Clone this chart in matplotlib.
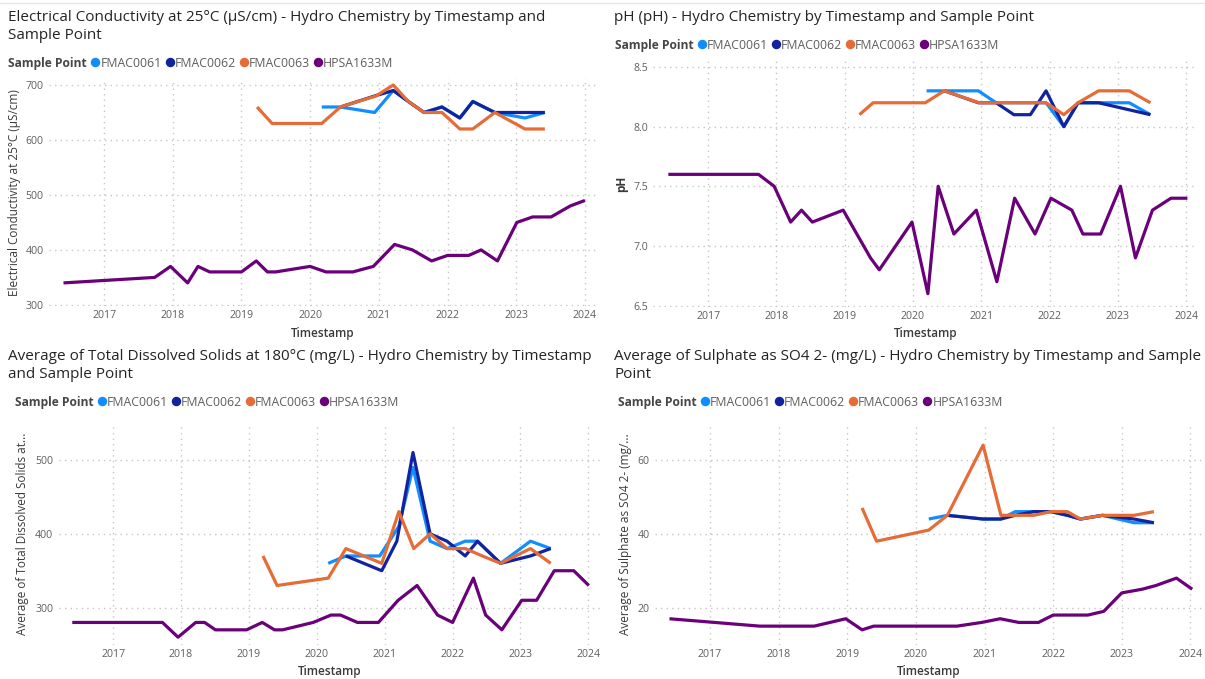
import matplotlib
matplotlib.use("Agg")
import matplotlib.pyplot as plt
import matplotlib.dates as mdates
from matplotlib.lines import Line2D
import pandas as pd

plt.rcParams["font.family"] = ["Open Sans", "Noto Sans", "DejaVu Sans"]

W, H = 1205, 679

sample_points = ["FMAC0061", "FMAC0062", "FMAC0063", "HPSA1633M"]
colors = ["#118DFF", "#12239E", "#E66C37", "#6B007B"]

# ---------------- Electrical Conductivity (uS/cm) ----------------
ec_0061_dates = ["2020-03-03", "2020-06-10", "2020-12-09", "2021-03-18", "2021-06-06", "2021-08-29",
                 "2021-12-02", "2022-03-07", "2022-05-15", "2022-09-09", "2023-02-16", "2023-06-02"]
ec_0061_vals = [660, 660, 650, 690, 670, 650, 660, 640, 670, 650, 640, 650]
ec_0062_dates = ["2020-06-10", "2020-12-09", "2021-03-18", "2021-06-06", "2021-08-29", "2021-12-02",
                 "2022-03-07", "2022-05-15", "2022-09-09", "2023-02-16", "2023-06-02"]
ec_0062_vals = [660, 680, 690, 670, 650, 660, 640, 670, 650, 650, 650]
ec_0063_dates = ["2019-03-25", "2019-06-13", "2020-03-03", "2020-06-10", "2020-12-16", "2021-03-18",
                 "2021-06-06", "2021-08-29", "2021-12-02", "2022-03-07", "2022-05-15", "2022-09-09",
                 "2023-02-16", "2023-06-02"]
ec_0063_vals = [660, 630, 630, 660, 680, 700, 670, 650, 650, 620, 620, 650, 620, 620]
ec_hpsa_dates = ["2016-05-30", "2017-09-27", "2017-12-20", "2018-03-21", "2018-05-15", "2018-07-16",
                 "2019-01-01", "2019-03-21", "2019-05-19", "2019-07-02", "2020-01-01", "2020-03-25",
                 "2020-08-15", "2020-12-02", "2021-03-25", "2021-06-28", "2021-10-08", "2022-01-01",
                 "2022-04-23", "2022-06-28", "2022-09-23", "2023-01-04", "2023-03-29", "2023-07-05",
                 "2023-10-15", "2024-01-01"]
ec_hpsa_vals = [340, 350, 370, 340, 370, 360, 360, 380, 360, 360, 370, 360, 360, 370, 410, 400, 380,
                390, 390, 400, 380, 450, 460, 460, 480, 490]

# ---------------- pH ----------------
ph_0061_dates = ["2020-03-14", "2020-06-17", "2020-12-16", "2021-03-21", "2021-06-24", "2021-09-20",
                 "2021-12-13", "2022-03-18", "2022-06-02", "2022-09-20", "2023-03-03", "2023-06-24"]
ph_0061_vals = [8.3, 8.3, 8.3, 8.2, 8.2, 8.2, 8.2, 8.0, 8.2, 8.2, 8.2, 8.1]
ph_0062_dates = ["2020-06-17", "2020-12-16", "2021-03-21", "2021-06-24", "2021-09-20", "2021-12-13",
                 "2022-03-18", "2022-06-02", "2022-09-20", "2023-06-24"]
ph_0062_vals = [8.3, 8.2, 8.2, 8.1, 8.1, 8.3, 8.0, 8.2, 8.2, 8.1]
ph_0063_dates = ["2019-03-21", "2019-06-02", "2020-03-07", "2020-06-17", "2020-12-20", "2021-03-21",
                 "2021-06-24", "2021-09-20", "2021-12-13", "2022-03-18", "2022-06-02", "2022-09-20",
                 "2023-03-03", "2023-06-24"]
ph_0063_vals = [8.1, 8.2, 8.2, 8.3, 8.2, 8.2, 8.2, 8.2, 8.2, 8.1, 8.2, 8.3, 8.3, 8.2]
ph_hpsa_dates = ["2016-06-02", "2017-09-27", "2017-12-20", "2018-03-18", "2018-05-15", "2018-07-12",
                 "2018-12-24", "2019-05-19", "2019-07-05", "2019-12-27", "2020-03-21", "2020-05-15",
                 "2020-08-07", "2020-12-05", "2021-03-25", "2021-06-28", "2021-10-15", "2022-01-08",
                 "2022-04-30", "2022-06-28", "2022-10-01", "2023-01-15", "2023-04-05", "2023-07-05",
                 "2023-10-12", "2024-01-08"]
ph_hpsa_vals = [7.6, 7.6, 7.5, 7.2, 7.3, 7.2, 7.3, 6.9, 6.8, 7.2, 6.6, 7.5, 7.1, 7.3, 6.7, 7.4, 7.1,
                7.4, 7.3, 7.1, 7.1, 7.5, 6.9, 7.3, 7.4, 7.4]

# ---------------- Total Dissolved Solids at 180C (mg/L) ----------------
tds_0061_dates = ["2020-03-03", "2020-06-06", "2020-12-05", "2021-03-18", "2021-06-02", "2021-09-02",
                  "2021-12-02", "2022-03-10", "2022-05-15", "2022-09-16", "2023-02-24", "2023-06-13"]
tds_0061_vals = [360, 370, 370, 410, 490, 390, 380, 390, 390, 360, 390, 380]
tds_0062_dates = ["2020-06-06", "2020-12-16", "2021-03-07", "2021-06-02", "2021-09-02", "2021-12-02",
                  "2022-03-10", "2022-05-15", "2022-09-16", "2023-02-24", "2023-06-13"]
tds_0062_vals = [370, 350, 390, 510, 400, 390, 370, 390, 360, 370, 380]
tds_0063_dates = ["2019-03-18", "2019-06-02", "2020-03-03", "2020-06-06", "2020-12-16", "2021-03-18",
                  "2021-06-06", "2021-09-02", "2021-12-02", "2022-03-10", "2022-06-10", "2022-09-16",
                  "2023-02-24", "2023-06-13"]
tds_0063_vals = [370, 330, 340, 380, 360, 430, 380, 400, 380, 380, 370, 360, 380, 360]
tds_hpsa_dates = ["2016-05-26", "2017-09-23", "2017-12-16", "2018-03-21", "2018-05-08", "2018-07-05",
                  "2018-12-20", "2019-03-14", "2019-05-19", "2019-07-02", "2019-12-13", "2020-03-18",
                  "2020-05-08", "2020-08-07", "2020-11-28", "2021-03-14", "2021-06-24", "2021-10-12",
                  "2022-01-01", "2022-04-23", "2022-06-28", "2022-09-23", "2023-01-08", "2023-03-29",
                  "2023-07-02", "2023-10-15", "2024-01-04"]
tds_hpsa_vals = [280, 280, 260, 280, 280, 270, 270, 280, 270, 270, 280, 290, 290, 280, 280, 310, 330,
                 290, 280, 340, 290, 270, 310, 310, 350, 350, 330]

# ---------------- Sulphate as SO4 2- (mg/L) ----------------
so4_0061_dates = ["2020-03-10", "2020-06-17", "2020-12-24", "2021-03-29", "2021-06-13", "2021-09-20",
                  "2021-12-20", "2022-03-18", "2022-05-26", "2022-09-20", "2023-03-07", "2023-06-21"]
so4_0061_vals = [44, 45, 44, 44, 46, 46, 46, 45, 44, 45, 43, 43]
so4_0062_dates = ["2020-06-17", "2020-12-24", "2021-03-29", "2021-06-13", "2021-09-20", "2021-12-20",
                  "2022-03-18", "2022-05-26", "2022-09-20", "2023-03-07", "2023-06-21"]
so4_0062_vals = [45, 44, 44, 45, 46, 46, 45, 44, 45, 44, 43]
so4_0063_dates = ["2019-03-21", "2019-06-06", "2020-03-10", "2020-06-17", "2020-12-24", "2021-03-29",
                  "2021-06-13", "2021-09-20", "2021-12-20", "2022-03-18", "2022-05-26", "2022-09-20",
                  "2023-03-07", "2023-06-21"]
so4_0063_vals = [47, 38, 41, 45, 64, 45, 45, 45, 46, 46, 44, 45, 45, 46]
so4_hpsa_dates = ["2016-05-30", "2017-09-23", "2017-12-24", "2018-07-09", "2018-12-24", "2019-03-21",
                  "2019-05-22", "2020-01-04", "2020-08-07", "2020-12-16", "2021-03-25", "2021-07-02",
                  "2021-10-15", "2022-01-01", "2022-07-05", "2022-09-27", "2023-01-01", "2023-04-20",
                  "2023-07-02", "2023-10-19", "2024-01-11"]
so4_hpsa_vals = [17, 15, 15, 15, 17, 14, 15, 15, 15, 16, 17, 16, 16, 18, 18, 19, 24, 25, 26, 28, 25]

titles = [
    ["Electrical Conductivity at 25°C (µS/cm) - Hydro Chemistry by Timestamp and", "Sample Point"],
    ["pH (pH) - Hydro Chemistry by Timestamp and Sample Point"],
    ["Average of Total Dissolved Solids at 180°C (mg/L) - Hydro Chemistry by Timestamp", "and Sample Point"],
    ["Average of Sulphate as SO4 2- (mg/L) - Hydro Chemistry by Timestamp and Sample", "Point"],
]
y_titles = ["Electrical Conductivity at 25°C (µS/cm)", "pH",
            "Average of Total Dissolved Solids at...", "Average of Sulphate as SO4 2- (mg/..."]
y_title_weight = ["normal", "bold", "normal", "normal"]
x_title = "Timestamp"
legend_title = "Sample Point"

series = [
    [(ec_0061_dates, ec_0061_vals), (ec_0062_dates, ec_0062_vals), (ec_0063_dates, ec_0063_vals), (ec_hpsa_dates, ec_hpsa_vals)],
    [(ph_0061_dates, ph_0061_vals), (ph_0062_dates, ph_0062_vals), (ph_0063_dates, ph_0063_vals), (ph_hpsa_dates, ph_hpsa_vals)],
    [(tds_0061_dates, tds_0061_vals), (tds_0062_dates, tds_0062_vals), (tds_0063_dates, tds_0063_vals), (tds_hpsa_dates, tds_hpsa_vals)],
    [(so4_0061_dates, so4_0061_vals), (so4_0062_dates, so4_0062_vals), (so4_0063_dates, so4_0063_vals), (so4_hpsa_dates, so4_hpsa_vals)],
]
y_ticks = [[300, 400, 500, 600, 700], [6.5, 7.0, 7.5, 8.0, 8.5], [300, 400, 500], [20, 40, 60]]
y_fmt = ["{:.0f}", "{:.1f}", "{:.0f}", "{:.0f}"]
y_lims = [(298, 712), (6.49, 8.55), (250, 550), (10, 70)]

# layout (pixels): left, right, top, bottom of plot area
boxes = [(49, 596.6, 78.4, 306), (653.4, 1197.7, 61, 306.8), (58.7, 599.8, 423, 644.6), (655, 1202, 423, 644.6)]
title_pos = [(8, [21, 39]), (614, [21]), (8, [360, 378]), (614, [360, 378])]
legend_pos = [(8.5, 62), (615, 44), (15, 401), (618, 401)]
ylab_x = [15, 622, 23, 626]
xlab_y = [333, 333, 672, 672]
x_lim = (pd.Timestamp("2016-03-14"), pd.Timestamp("2024-03-03"))

fig = plt.figure(figsize=(W / 100, H / 100), dpi=100)
renderer = fig.canvas.get_renderer()


def fx(x):
    return x / W


def fy(y):
    return 1 - y / H


def width_px(s, size, weight="normal"):
    t = fig.text(0, 0, s, fontsize=size, fontweight=weight)
    w = t.get_window_extent(renderer).width
    t.remove()
    return w


def fit(s, target, weight="normal"):
    return 10 * target / width_px(s, 10, weight)


title_size = fit(titles[0][0], 537)
legend_size = fit("FMAC0061", 61)
legend_bold_size = fit(legend_title, 79, "bold")
tick_size = fit("2017", 24)
axis_title_size = fit(y_titles[0], 208)

TITLE_C = "#252423"
TICK_C = "#605E5C"
AXT_C = "#3B3A39"

# faint visual border on top
fig.add_artist(Line2D([0, 1], [fy(3), fy(3)], transform=fig.transFigure, color="#E6E6E6", lw=1))

for i in range(4):
    l, r, t, b = boxes[i]
    ax = fig.add_axes([fx(l), fy(b), (r - l) / W, (b - t) / H])
    for (dates, vals), c in zip(series[i], colors):
        ax.plot(pd.to_datetime(dates), vals, color=c, lw=2.3, solid_joinstyle="round",
                solid_capstyle="butt", clip_on=False)
    ax.set_xlim(*x_lim)
    ax.set_ylim(*y_lims[i])
    ax.xaxis.set_major_locator(mdates.YearLocator())
    ax.xaxis.set_major_formatter(mdates.DateFormatter("%Y"))
    ax.set_yticks(y_ticks[i])
    ax.set_yticklabels([y_fmt[i].format(v) for v in y_ticks[i]])
    ax.grid(True, linestyle=(0, (1, 3)), color="#C8C6C4", lw=1.0)
    ax.set_axisbelow(True)
    for s in ax.spines.values():
        s.set_visible(False)
    ax.tick_params(axis="both", length=0, labelsize=tick_size, colors=TICK_C)
    ax.tick_params(axis="x", pad=3)
    ax.tick_params(axis="y", pad=4)
    ax.patch.set_alpha(0)

    # title
    tx, tys = title_pos[i]
    for line, ty in zip(titles[i], tys):
        fig.text(fx(tx), fy(ty), line, fontsize=title_size, color=TITLE_C, va="baseline", ha="left")

    # legend
    lx, ly = legend_pos[i]
    t0 = fig.text(fx(lx), fy(ly), legend_title, fontsize=legend_bold_size, fontweight="bold",
                  color="#484644", va="center_baseline", ha="left")
    x = lx + t0.get_window_extent(renderer).width
    for name, c in zip(sample_points, colors):
        cx = x + 8
        fig.add_artist(Line2D([fx(cx)], [fy(ly)], transform=fig.transFigure, marker="o",
                              markersize=5.8, color=c, linestyle="none"))
        tt = fig.text(fx(cx + 5), fy(ly), name, fontsize=legend_size, color=TICK_C,
                      va="center_baseline", ha="left")
        x = cx + 5 + tt.get_window_extent(renderer).width

    # axis titles
    fig.text(fx(ylab_x[i]), fy((t + b) / 2), y_titles[i], rotation=90, fontsize=axis_title_size,
             fontweight=y_title_weight[i], color=AXT_C, ha="center", va="center")
    fig.text(fx((l + r) / 2), fy(xlab_y[i]), x_title, fontsize=axis_title_size, color=AXT_C,
             fontweight="semibold", ha="center", va="center")

fig.savefig("out.png", dpi=100)
